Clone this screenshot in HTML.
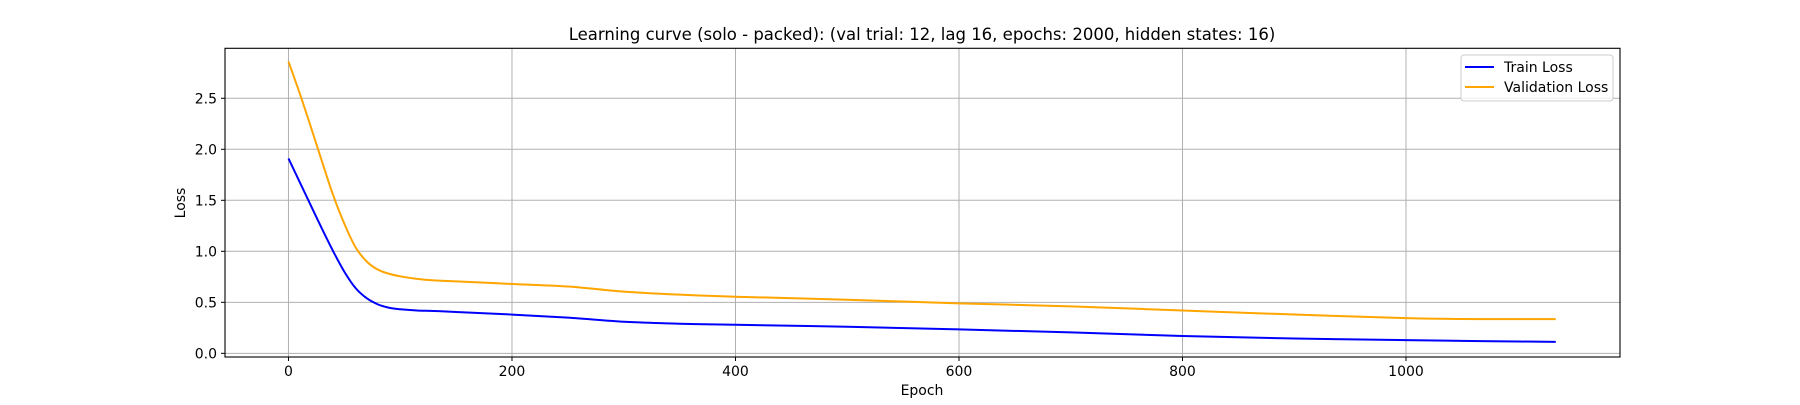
<!DOCTYPE html>
<html><head><meta charset="utf-8"><style>
html,body{margin:0;padding:0;background:#fff;}
svg text{font-family:"DejaVu Sans","Liberation Sans",sans-serif;fill:#000;}
</style></head><body>
<svg id="chart" width="1800" height="400" xmlns="http://www.w3.org/2000/svg">
<rect x="0" y="0" width="1800" height="400" fill="#fff"/>
<text x="922" y="40" font-size="16.5" text-anchor="middle">Learning curve (solo - packed): (val trial: 12, lag 16, epochs: 2000, hidden states: 16)</text>
<g id="grid"></g>
<g id="series"></g>
<rect x="225" y="48.3" width="1395" height="308.7" fill="none" stroke="#000" stroke-width="1.1"/>
<g id="ticks"></g>
<text x="922" y="395" font-size="14" text-anchor="middle">Epoch</text>
<text x="185" y="203" font-size="14" text-anchor="middle" transform="rotate(-90 185 203)">Loss</text>
<g>
<rect x="1461" y="55" width="152" height="46" rx="3" fill="#fff" fill-opacity="0.8" stroke="#ccc"/>
<g>
<line x1="1465" y1="67" x2="1494" y2="67" stroke="#0000ff" stroke-width="2"/>
<text x="1504" y="72" font-size="14">Train Loss</text></g>
<g>
<line x1="1465" y1="87" x2="1494" y2="87" stroke="#ffa500" stroke-width="2"/>
<text x="1504" y="92" font-size="14">Validation Loss</text></g>
</g>
</svg>
<script>
const epochs = [0,10,20,30,40,50,60,70,80,90,100,115,130,150,200,250,300,350,400,500,600,700,800,900,1000,1050,1100,1134];
const trainLoss = [1.91,1.68,1.45,1.22,1.0,0.8,0.64,0.54,0.48,0.447,0.432,0.42,0.415,0.405,0.38,0.35,0.31,0.29,0.28,0.26,0.235,0.205,0.17,0.145,0.13,0.122,0.116,0.112];
const valLoss = [2.86,2.55,2.22,1.88,1.55,1.27,1.04,0.9,0.82,0.78,0.755,0.73,0.715,0.705,0.68,0.655,0.605,0.575,0.555,0.525,0.49,0.46,0.42,0.38,0.345,0.337,0.335,0.335];
const xTicks = [0,200,400,600,800,1000];
const yTicks = [0.0,0.5,1.0,1.5,2.0,2.5];
const X0=225,X1=1620,Y0=357,Y1=48.3,xmin=-56.8,xmax=1191.5,ymin=-0.036,ymax=2.99;
const sx=v=>X0+(v-xmin)/(xmax-xmin)*(X1-X0);
const sy=v=>Y0-(v-ymin)/(ymax-ymin)*(Y0-Y1);
const NS='http://www.w3.org/2000/svg';
const grid=document.getElementById('grid'),ticks=document.getElementById('ticks'),series=document.getElementById('series');
function mk(t,a,p){const e=document.createElementNS(NS,t);for(const k in a)e.setAttribute(k,a[k]);p.appendChild(e);return e;}
xTicks.forEach(v=>{
 const gl=mk('line',{x1:sx(v),x2:sx(v),y1:Y1,y2:Y0,stroke:'#b0b0b0','stroke-width':1},grid);
 
 
 mk('line',{x1:sx(v),x2:sx(v),y1:Y0,y2:Y0+4,stroke:'#000'},ticks);
 const t=mk('text',{x:sx(v),y:Y0+19,'font-size':14,'text-anchor':'middle'},ticks);
 t.textContent=String(v);
 
 
});
yTicks.forEach(v=>{
 const gl=mk('line',{x1:X0,x2:X1,y1:sy(v),y2:sy(v),stroke:'#b0b0b0','stroke-width':1},grid);
 
 
 mk('line',{x1:X0-4,x2:X0,y1:sy(v),y2:sy(v),stroke:'#000'},ticks);
 const t=mk('text',{x:X0-8,y:sy(v)+5,'font-size':14,'text-anchor':'end'},ticks);
 t.textContent=v.toFixed(1);
 
 
});
function path(vals){
 const p=epochs.map((e,i)=>[sx(e),sy(vals[i])]);
 let d='M'+p[0][0]+','+p[0][1];
 for(let i=0;i<p.length-1;i++){
  const p0=p[Math.max(0,i-1)],p1=p[i],p2=p[i+1],p3=p[Math.min(p.length-1,i+2)];
  const c1=[p1[0]+(p2[0]-p0[0])/6,p1[1]+(p2[1]-p0[1])/6],c2=[p2[0]-(p3[0]-p1[0])/6,p2[1]-(p3[1]-p1[1])/6];
  d+=' C'+c1+' '+c2+' '+p2;
 }
 return d;
}
const tp=mk('path',{d:path(trainLoss),fill:'none',stroke:'#0000ff','stroke-width':2},series);


const vp=mk('path',{d:path(valLoss),fill:'none',stroke:'#ffa500','stroke-width':2},series);


</script>
</body></html>
